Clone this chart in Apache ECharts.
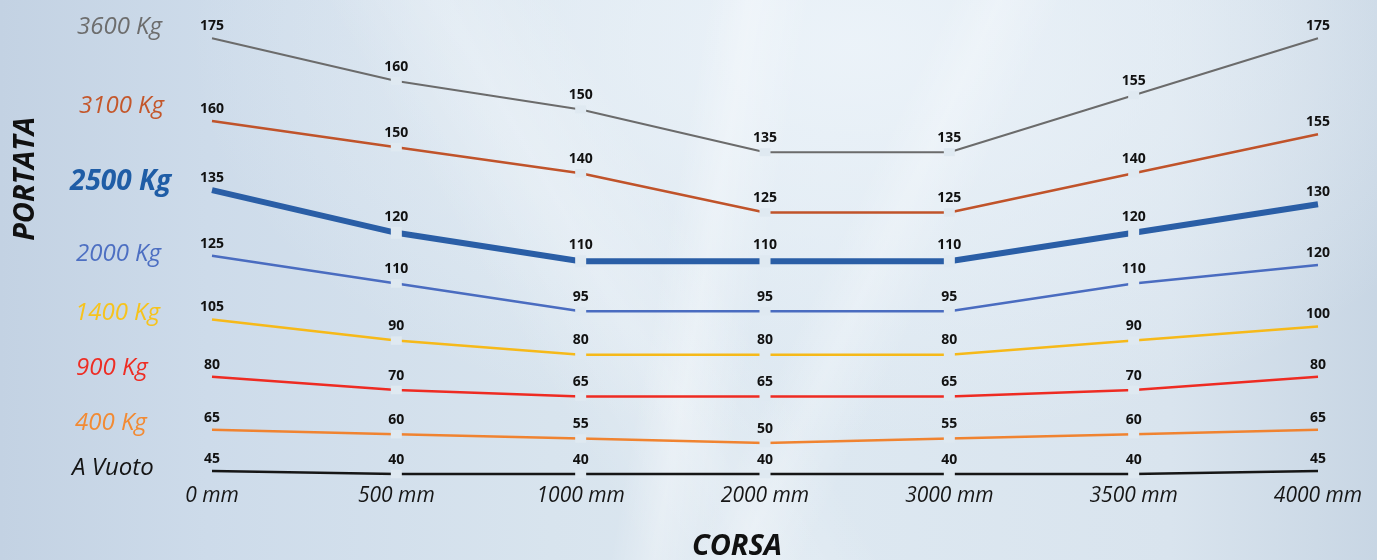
<!DOCTYPE html>
<html>
<head>
<meta charset="utf-8">
<script src="https://cdn.jsdelivr.net/npm/echarts@6/dist/echarts.min.js"></script>
<style>
html,body{margin:0;padding:0;width:1377px;height:560px;overflow:hidden}
#c{width:1377px;height:560px;
background:
 linear-gradient(100deg, rgba(255,255,255,0) 48%, rgba(255,255,255,0.30) 51%, rgba(255,255,255,0) 55%),
 linear-gradient(115deg, rgba(255,255,255,0) 58%, rgba(255,255,255,0.25) 61%, rgba(255,255,255,0) 65%),
 linear-gradient(60deg, rgba(255,255,255,0) 38%, rgba(255,255,255,0.22) 45%, rgba(255,255,255,0) 52%),
 radial-gradient(ellipse at 62% 8%, rgba(236,243,249,0.95) 0%, rgba(236,243,249,0) 55%),
 linear-gradient(90deg, #c3d2e3 0%, #cddbea 15%, #d8e4ee 40%, #dde8f1 60%, #d9e4ee 85%, #c8d6e4 100%);
}
</style>
</head>
<body>
<div id="c"></div>
<script>
// ---- data ----
const categories = ['0 mm', '500 mm', '1000 mm', '2000 mm', '3000 mm', '3500 mm', '4000 mm'];
const seriesNames = ['3600 Kg', '3100 Kg', '2500 Kg', '2000 Kg', '1400 Kg', '900 Kg', '400 Kg', 'A Vuoto'];
const v3600 = [175, 160, 150, 135, 135, 155, 175];
const v3100 = [160, 150, 140, 125, 125, 140, 155];
const v2500 = [135, 120, 110, 110, 110, 120, 130];
const v2000 = [125, 110, 95, 95, 95, 110, 120];
const v1400 = [105, 90, 80, 80, 80, 90, 100];
const v900 = [80, 70, 65, 65, 65, 70, 80];
const v400 = [65, 60, 55, 50, 55, 60, 65];
const vVuoto = [45, 40, 40, 40, 40, 40, 45];

const seriesValues = [v3600, v3100, v2500, v2000, v1400, v900, v400, vVuoto];

// ---- styles (each series has its own hidden scale, the chart is schematic) ----
const styles = [
  {color: '#6b6b6b', labelColor: '#6d6d6d', width: 2,   min: 20,    max: 188.4, lx: 77, ly: 27,  fs: 24, fw: 'normal'},
  {color: '#c0532a', labelColor: '#c4572b', width: 2.5, min: 22.5,  max: 206.4, lx: 79, ly: 106, fs: 24, fw: 'normal'},
  {color: '#2a5ea6', labelColor: '#1f5da6', width: 6,   min: 33.25, max: 201.7, lx: 70, ly: 182, fs: 28, fw: 'bold'},
  {color: '#4a6cc0', labelColor: '#4d6fc2', width: 2.5, min: 3.8,   max: 263.2, lx: 76, ly: 254, fs: 24, fw: 'normal'},
  {color: '#f6b919', labelColor: '#f7c31c', width: 2.5, min: -8.9,  max: 331.6, lx: 75, ly: 313, fs: 24, fw: 'normal'},
  {color: '#ee2b22', labelColor: '#ee2d24', width: 2.5, min: 2.3,   max: 363.2, lx: 76, ly: 368, fs: 24, fw: 'normal'},
  {color: '#f08330', labelColor: '#f28a33', width: 2.5, min: 7.85,  max: 553.9, lx: 75, ly: 423, fs: 24, fw: 'normal'},
  {color: '#161616', labelColor: '#151515', width: 2.5, min: 30,    max: 830,   lx: 72, ly: 468, fs: 24, fw: 'normal'}
];

const FONT = 'Open Sans';

const yAxes = styles.map(s => ({type: 'value', min: s.min, max: s.max, show: false}));

const series = seriesValues.map((vals, i) => {
  const s = styles[i];
  return {
    name: seriesNames[i],
    type: 'line',
    yAxisIndex: i,
    symbol: 'rect',
    showAllSymbol: true,
    silent: true,
    z: 2,
    itemStyle: {color: '#dfe9f1', borderWidth: 0},
    lineStyle: {color: s.color, width: s.width},
    emphasis: {disabled: true},
    label: {
      show: true, position: 'top', color: '#111', fontWeight: 'bold',
      fontSize: 14, fontFamily: FONT
    },
    data: vals.map((v, j) => {
      const end = (j === 0 || j === vals.length - 1);
      return {
        value: v,
        symbolSize: end ? 0 : [11, s.width + 6],
        label: {distance: end ? 5 : 3}
      };
    })
  };
});

const graphics = seriesNames.map((n, i) => ({
  type: 'text',
  x: styles[i].lx,
  y: styles[i].ly,
  style: {
    text: n, fill: styles[i].labelColor, textVerticalAlign: 'middle', textAlign: 'left',
    font: (styles[i].fw === 'bold' ? 'italic bold ' : 'italic ') + styles[i].fs + 'px "' + FONT + '"'
  }
}));
graphics.push({
  type: 'text',
  x: 26, y: 179,
  rotation: Math.PI / 2,
  style: {text: 'PORTATA', fill: '#111', font: 'italic bold 29px "' + FONT + '"', textAlign: 'center', textVerticalAlign: 'middle'}
});

const chart = echarts.init(document.getElementById('c'));
chart.setOption({
  animation: false,
  backgroundColor: 'transparent',
  grid: {left: 212, right: 59, top: 0, bottom: 80, containLabel: false, outerBoundsMode: 'none'},
  xAxis: {
    type: 'category',
    data: categories,
    boundaryGap: false,
    axisLine: {show: false},
    axisTick: {show: false},
    splitLine: {show: false},
    axisLabel: {color: '#161616', fontStyle: 'italic', fontSize: 21, fontFamily: FONT, margin: 6},
    name: 'CORSA',
    nameLocation: 'middle',
    nameGap: 52,
    nameTextStyle: {color: '#111', fontStyle: 'italic', fontWeight: 'bold', fontSize: 29, fontFamily: FONT, padding: [0, 56, 0, 0]}
  },
  yAxis: yAxes,
  series: series,
  graphic: graphics
});
</script>
</body>
</html>
